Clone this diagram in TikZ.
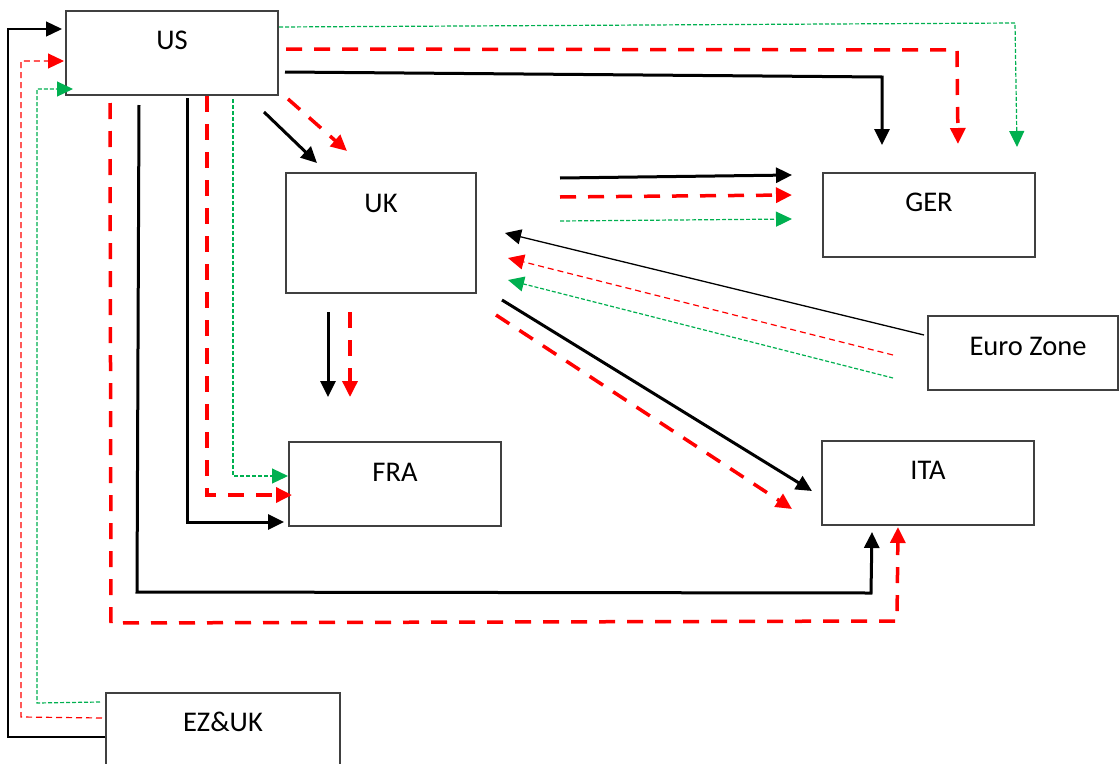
\documentclass[tikz,border=0pt]{standalone}
\usepackage{fontspec}
\setmainfont{Carlito}
\usetikzlibrary{arrows.meta}
\definecolor{ogreen}{RGB}{0,176,80}
\definecolor{boxgray}{RGB}{64,64,64}
\begin{document}
\begin{tikzpicture}[x=1pt,y=-1pt,
  box/.style={draw=boxgray, line width=1.3pt, inner sep=0pt},
  lbl/.style={font=\fontsize{28.5}{32}\selectfont, anchor=base, inner sep=0pt},
  tip/.style={-{Triangle[length=16pt,width=15pt]}},
  blk/.style={tip, black, line width=3pt},
  blkthin/.style={tip, black, line width=1.3pt},
  redthick/.style={tip, red, line width=3.5pt, dash pattern=on 16pt off 12pt},
  redthin/.style={tip, red, line width=1.2pt, dash pattern=on 6pt off 4pt},
  grn/.style={tip, ogreen, line width=1.2pt, dash pattern=on 4pt off 2pt},
]
\useasboundingbox (0,0) rectangle (1119,763);
\fill[white] (0,0) rectangle (1119,763);

% boxes
\node[box, minimum width=212pt, minimum height=84pt] (us) at (172,53) {};
\node[box, minimum width=190pt, minimum height=120pt] (uk) at (381,233) {};
\node[box, minimum width=212pt, minimum height=84pt] (ger) at (929,215) {};
\node[box, minimum width=190pt, minimum height=74pt] (ez) at (1023,353) {};
\node[box, minimum width=212pt, minimum height=84pt] (fra) at (395,484) {};
\node[box, minimum width=212pt, minimum height=84pt] (ita) at (928,483) {};
\node[box, minimum width=234pt, minimum height=84pt] (ezuk) at (223,735) {};

% labels
\node[lbl] (usT) at (172,49) {US};
\node[lbl] (ukT) at (381,212) {UK};
\node[lbl] (gerT) at (929,211) {GER};
\node[lbl] (ezT) at (1028,355) {Euro Zone};
\node[lbl] (fraT) at (395,481) {FRA};
\node[lbl] (itaT) at (928,479) {ITA};
\node[lbl] (ezukT) at (223,731) {EZ\&UK};

% US -> GER
\draw[blk] (285,72) -- (882,77) -- (882,145);
\draw[redthick] (286,49) -- (957,50) -- (958,144);
\draw[grn] (279,27) -- (1015,23) -- (1017,147);

% US -> UK
\draw[blk] (264,112) -- (317,163);
\draw[redthick] (288,99) -- (347,151);

% UK -> GER
\draw[blk] (560,178) -- (792,175);
\draw[redthick] (560,197) -- (792,195);
\draw[grn] (560,221) -- (792,219);

% Euro Zone -> UK
\draw[blkthin] (924,335) -- (505,233);
\draw[redthin] (893,355) -- (508,258);
\draw[grn] (893,378) -- (508,280);

% UK -> ITA
\draw[blk] (502,300) -- (812,491);
\draw[redthick] (496,315) -- (792,509);

% UK -> FRA
\draw[blk] (328,312) -- (328,397);
\draw[redthick] (350,312) -- (350,397);

% US -> FRA
\draw[grn] (233,99) -- (233,476) -- (288,476);
\draw[redthick] (207,96) -- (207,495) -- (292,495);
\draw[blk] (187,98) -- (187,522) -- (284,522);

% US -> ITA
\draw[blk] (139,105) -- (137,592) -- (871,593) -- (872,532);
\draw[redthick] (110,103) -- (111,623) -- (897,621) -- (898,527);

% EZ&UK -> US
\draw[blkthin] (105,737) -- (8,737) -- (8,29) -- (62,29);
\draw[redthin] (102,718) -- (21,717) -- (21,61) -- (64,61);
\draw[grn] (100,702) -- (37,703) -- (37,89) -- (73,89);
\end{tikzpicture}
\end{document}
